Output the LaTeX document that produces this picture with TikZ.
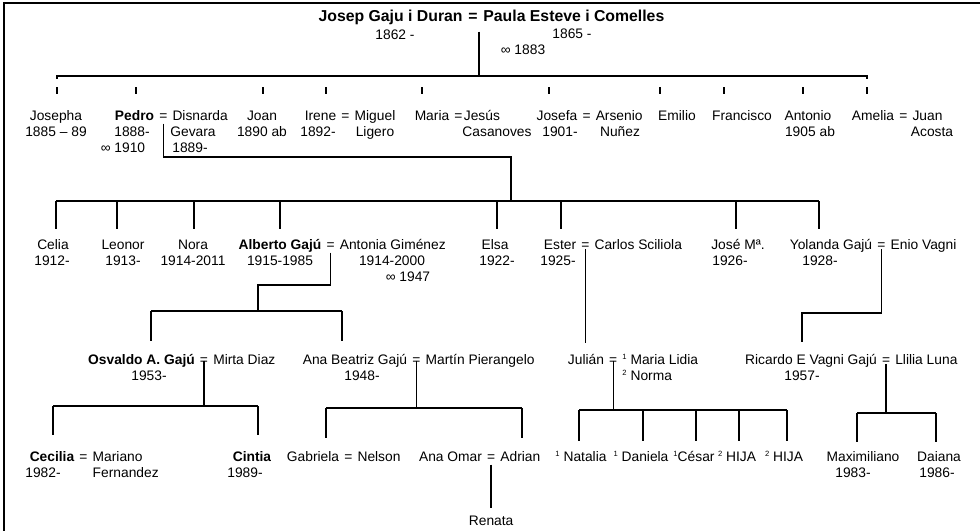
\documentclass[tikz,border=0pt]{standalone}
\usepackage{fontspec}
\setmainfont{Liberation Sans}
\usetikzlibrary{positioning}
\newcommand{\gensize}{\fontsize{6.9pt}{8pt}\selectfont}
\newcommand{\titlesize}{\fontsize{7.9pt}{9pt}\selectfont}
\newcommand{\wifeno}[1]{\raisebox{2.4pt}{\fontsize{3.8pt}{4pt}\selectfont #1}}

\begin{document}
\begin{tikzpicture}[x=0.5pt,y=-0.5pt,line width=0.7pt,
    every node/.style={inner sep=0pt,anchor=base,text height=5pt,text depth=1.5pt,font=\gensize}]
  \useasboundingbox (0,0) rectangle (980,531);
  \draw[line width=0.8pt] (980,3) -- (4,3) -- (4,531);

  % parents
  \node[font=\titlesize\bfseries] (eq0) at (473,21) {=};
  \node[font=\titlesize\bfseries,base left=2.2pt of eq0] (josep) {Josep Gaju i Duran};
  \node[font=\titlesize\bfseries,base right=2.2pt of eq0] (paula) {Paula Esteve i Comelles};
  \node (josepy) at (395,39) {1862 -};
  \node (paulay) at (572,38) {1865 -};
  \node (wed0) at (523,54) {∞ 1883};

  % first generation
  \node (josepha) at (56,120) {Josepha};
  \node (josephay) at (56,136) {1885 – 89};
  \node[font=\gensize\bfseries] (pedro) at (134.5,120) {Pedro};
  \node[base right=1.9pt of pedro] (eq1) {=};
  \node[base right=1.9pt of eq1] (disnarda) {Disnarda};
  \node (pedroy) at (132,136) {1888-};
  \node (wed1) at (123,152) {∞ 1910};
  \node (gevara) at (193,136) {Gevara};
  \node (disnarday) at (190,152) {1889-};
  \node (joan) at (262,120) {Joan};
  \node (joany) at (262,136) {1890 ab};
  \node (irene) at (320.5,120) {Irene};
  \node[base right=1.9pt of irene] (eq2) {=};
  \node[base right=1.9pt of eq2] (miguel) {Miguel};
  \node (ireney) at (318,136) {1892-};
  \node (ligero) at (375,136) {Ligero};
  \node (maria) at (432,120) {Maria};
  \node[base right=1.9pt of maria] (eq3) {=};
  \node[base right=0pt of eq3] (jesus) {Jesús};
  \node (casanoves) at (497,136) {Casanoves};
  \node (josefa) at (557,120) {Josefa};
  \node[base right=1.9pt of josefa] (eq4) {=};
  \node[base right=1.9pt of eq4] (arsenio) {Arsenio};
  \node (josefay) at (560,136) {1901-};
  \node (nunez) at (620,136) {Nuñez};
  \node (emilio) at (677,120) {Emilio};
  \node (francisco) at (742,120) {Francisco};
  \node (antonio) at (808,120) {Antonio};
  \node (antonioy) at (810,136) {1905 ab};
  \node (amelia) at (873,120) {Amelia};
  \node[base right=1.9pt of amelia] (eq5) {=};
  \node[base right=1.9pt of eq5] (juan) {Juan};
  \node (acosta) at (932,136) {Acosta};

  % second generation
  \node (celia) at (53,249) {Celia};
  \node (celiay) at (52,265) {1912-};
  \node (leonor) at (123,249) {Leonor};
  \node (leonory) at (123,265) {1913-};
  \node (nora) at (193,249) {Nora};
  \node (noray) at (193,265) {1914-2011};
  \node[font=\gensize\bfseries] (alberto) at (280,249) {Alberto Gajú};
  \node[base right=1.9pt of alberto] (eq6) {=};
  \node[base right=1.9pt of eq6] (antonia) {Antonia Giménez};
  \node (albertoy) at (280,265) {1915-1985};
  \node (antoniay) at (392,265) {1914-2000};
  \node (wed6) at (408,281) {∞ 1947};
  \node (elsa) at (495,249) {Elsa};
  \node (elsay) at (497,265) {1922-};
  \node (ester) at (560,249) {Ester};
  \node[base right=1.9pt of ester] (eq7) {=};
  \node[base right=1.9pt of eq7] (carlos) {Carlos Sciliola};
  \node (estery) at (558,265) {1925-};
  \node (jose) at (738,249) {José Mª.};
  \node (josey) at (730,265) {1926-};
  \node (yolanda) at (831,249) {Yolanda Gajú};
  \node[base right=1.9pt of yolanda] (eq8) {=};
  \node[base right=1.9pt of eq8] (enio) {Enio Vagni};
  \node (yolanday) at (820,265) {1928-};

  % third generation
  \node[font=\gensize\bfseries] (osvaldo) at (141.5,364) {Osvaldo A. Gajú};
  \node[base right=1.9pt of osvaldo] (eq9) {=};
  \node[base right=1.9pt of eq9] (mirta) {Mirta Diaz};
  \node (osvaldoy) at (149,380) {1953-};
  \node (anab) at (355,364) {Ana Beatriz Gajú};
  \node[base right=1.9pt of anab] (eq10) {=};
  \node[base right=1.9pt of eq10] (martin) {Martín Pierangelo};
  \node (anaby) at (362,380) {1948-};
  \node (julian) at (586,364) {Julián};
  \node[base right=1.9pt of julian] (eq11) {=};
  \node[base right=1.9pt of eq11] (lidia) {\wifeno{1} Maria Lidia};
  \node[anchor=base west] (norma) at ([yshift=-8pt]lidia.base west) {\wifeno{2} Norma};
  \node (ricardo) at (811,364) {Ricardo E Vagni Gajú};
  \node[base right=1.9pt of ricardo] (eq12) {=};
  \node[base right=1.9pt of eq12] (llilia) {Llilia Luna};
  \node (ricardoy) at (802,380) {1957-};

  % fourth generation
  \node[font=\gensize\bfseries] (cecilia) at (52,461) {Cecilia};
  \node[base right=1.9pt of cecilia] (eq13) {=};
  \node[base right=1.9pt of eq13] (mariano) {Mariano};
  \node[anchor=base west] (fernandez) at ([yshift=-8pt]mariano.base west) {Fernandez};
  \node (ceciliay) at (43,477) {1982-};
  \node[font=\gensize\bfseries] (cintia) at (252,461) {Cintia};
  \node (cintiay) at (245,477) {1989-};
  \node (gabriela) at (313,461) {Gabriela};
  \node[base right=1.9pt of gabriela] (eq14) {=};
  \node[base right=1.9pt of eq14] (nelson) {Nelson};
  \node (anaomar) at (450.5,461) {Ana Omar};
  \node[base right=1.9pt of anaomar] (eq15) {=};
  \node[base right=1.9pt of eq15] (adrian) {Adrian};
  \node (renata) at ([yshift=-32pt]eq15.base) {Renata};
  \node (natalia) at (581,461) {\wifeno{1} Natalia};
  \node (daniela) at (641,461) {\wifeno{1} Daniela};
  \node (cesar) at (694,461) {\wifeno{1}César};
  \node (hijaa) at (737,461) {\wifeno{2} HIJA};
  \node (hijab) at (784,461) {\wifeno{2} HIJA};
  \node (maximiliano) at (863,461) {Maximiliano};
  \node (maximilianoy) at (853,477) {1983-};
  \node (daiana) at (939,461) {Daiana};
  \node (daianay) at (937,477) {1986-};

  % lines
  \draw[shorten <=3.5pt] ([xshift=3pt]eq0.south) -- ([xshift=3pt]eq0.south |- 0,76);
  \foreach \who/\x in {josepha/57,pedro/136,joan/263,irene/326,maria/422,josefa/549,emilio/660,francisco/724,antonio/803,amelia/867}{
    \coordinate (k1-\who) at (\x,76);
    \draw[shorten <=5.5pt,shorten >=7.5pt] (k1-\who) -- (k1-\who |- \who.north);
  }
  \draw (k1-josepha) ++(0,3) -- (k1-josepha) -- (k1-amelia) -- ++(0,3);

  \foreach \who/\x in {celia/56,leonor/117,nora/194,alberto/280,elsa/497,ester/561,jose/736,yolanda/819}{
    \coordinate (k2-\who) at (\x,201);
    \draw[shorten >=4.5pt] (k2-\who) -- (k2-\who |- \who.north);
  }
  \draw (k2-celia) -- (k2-yolanda);
  \coordinate (pedroturn) at (511,157);
  \draw (eq1.south) |- (pedroturn) -- (pedroturn |- k2-celia);

  \foreach \who/\x in {osvaldo/151,anab/342}{
    \coordinate (k3-\who) at (\x,311);
    \draw[shorten >=6pt] (k3-\who) -- (k3-\who |- \who.north);
  }
  \draw (k3-osvaldo) -- (k3-anab);
  \coordinate (albertoturn) at (258,285);
  \draw (eq6.south) |- (albertoturn) -- (albertoturn |- k3-osvaldo);
  \draw[shorten >=5pt] (eq7.base) -- (eq7.base |- julian.north);
  \coordinate (yolandaturn) at (802,313);
  \draw[shorten >=5.5pt] (eq8.base) |- (yolandaturn) -- (yolandaturn |- ricardo.north);

  \foreach \who/\x in {cecilia/53,cintia/258}{
    \coordinate (k4-\who) at (\x,406);
    \draw[shorten >=7.5pt] (k4-\who) -- (k4-\who |- \who.north);
  }
  \draw (k4-cecilia) -- (k4-cintia);
  \draw (eq9.center) -- (eq9.center |- k4-cecilia);

  \foreach \who/\x in {gabriela/326,anaomar/522}{
    \coordinate (k4-\who) at (\x,408);
    \draw[shorten >=6pt] (k4-\who) -- (k4-\who |- \who.north);
  }
  \draw (k4-gabriela) -- (k4-anaomar);
  \draw (eq10.center) -- (eq10.center |- k4-gabriela);
  \draw[shorten >=3pt] (eq15.south) -- (renata.north);

  \foreach \who/\x in {natalia/579,daniela/643,cesar/696,hijaa/739,hijab/787}{
    \coordinate (k4-\who) at (\x,410);
    \draw[shorten >=4.5pt] (k4-\who) -- (k4-\who |- \who.north);
  }
  \draw (k4-natalia) -- (k4-hijab);
  \draw (eq11.center) -- (eq11.center |- k4-natalia);

  \foreach \who/\x in {maximiliano/857,daiana/936}{
    \coordinate (k4-\who) at (\x,413);
    \draw[shorten >=4pt] (k4-\who) -- (k4-\who |- \who.north);
  }
  \draw (k4-maximiliano) -- (k4-daiana);
  \draw (eq12.base) -- (eq12.base |- k4-maximiliano);
\end{tikzpicture}
\end{document}
